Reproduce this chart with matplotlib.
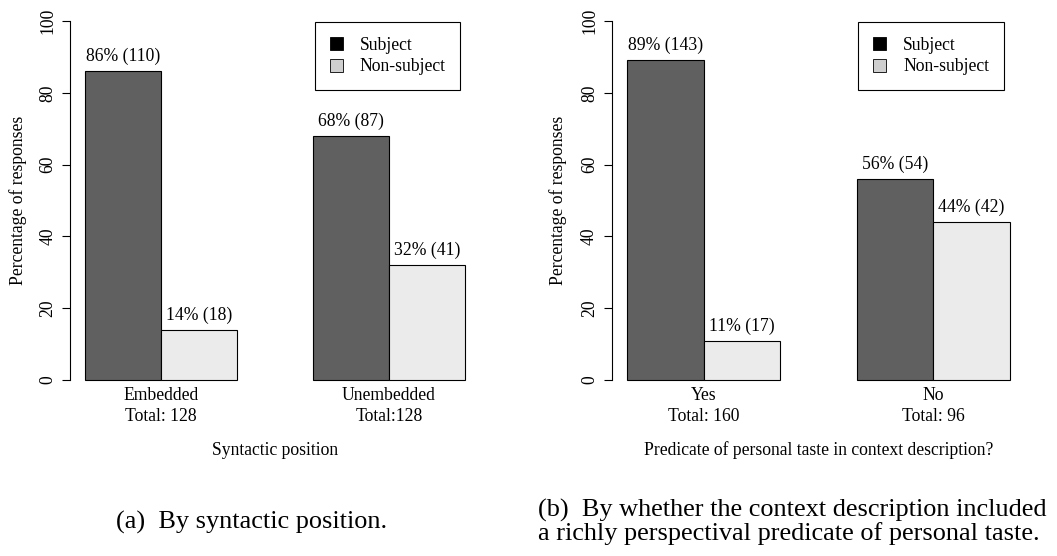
import matplotlib
matplotlib.use("Agg")
import matplotlib.pyplot as plt
from matplotlib.patches import Patch

plt.rcParams['font.family'] = ['Liberation Serif', 'DejaVu Serif']

# ---- data ----
cats_a = ["Embedded\nTotal: 128", "Unembedded\nTotal:128"]
subj_a = [86, 68]
subj_n_a = [110, 87]
non_a = [14, 32]
non_n_a = [18, 41]

cats_b = ["Yes\nTotal: 160", "No\nTotal: 96"]
subj_b = [89, 56]
subj_n_b = [143, 54]
non_b = [11, 44]
non_n_b = [17, 42]

series_names = ["Subject", "Non-subject"]
xtitle_a = "Syntactic position"
xtitle_b = "Predicate of personal taste in context description?"
ylab = "Percentage of responses"
cap_a = "(a)  By syntactic position."
cap_b = "(b)  By whether the context description included\na richly perspectival predicate of personal taste."

W, H = 1057, 556
fig = plt.figure(figsize=(W / 100, H / 100), dpi=100)

FS = 12.7
DARK = "#5f605f"
LIGHT = "#ebebeb"

def px_axes(left, right, top, bottom):
    return fig.add_axes([left / W, 1 - bottom / H, (right - left) / W, (bottom - top) / H])

def panel(ax, cats, s, sn, ns, nsn, xtitle):
    ax.set_xlim(0.8, 6.2)
    ax.set_ylim(-4, 104)
    for i in range(len(cats)):
        base = 1 + 3 * i
        ax.bar(base, s[i], width=1, align='edge', color=DARK, edgecolor='black', linewidth=0.8)
        ax.bar(base + 1, ns[i], width=1, align='edge', color=LIGHT, edgecolor='black', linewidth=0.8)
        ax.annotate(f"{s[i]}% ({sn[i]})", xy=(base + 0.5, s[i]), xytext=(0, 6),
                    textcoords='offset pixels', ha='center', va='bottom', fontsize=FS)
        ax.annotate(f"{ns[i]}% ({nsn[i]})", xy=(base + 1.5, ns[i]), xytext=(0, 6),
                    textcoords='offset pixels', ha='center', va='bottom', fontsize=FS)
        ax.annotate(cats[i], xy=(base + 1, 0), xytext=(0, -26), textcoords='offset pixels',
                    ha='center', va='center', fontsize=FS, linespacing=1.3,
                    annotation_clip=False)
    for sp in ['top', 'right', 'bottom']:
        ax.spines[sp].set_visible(False)
    ax.spines['left'].set_bounds(0, 100)
    ax.spines['left'].set_linewidth(0.8)
    ax.set_xticks([])
    ax.set_yticks([0, 20, 40, 60, 80, 100])
    ax.tick_params(axis='y', direction='out', length=5.8, width=0.8, pad=4, labelsize=FS)
    for lbl in ax.get_yticklabels():
        lbl.set_rotation(90)
        lbl.set_va('center')
    ax.patch.set_visible(False)
    ax.text(0.5, -0.1434, xtitle, transform=ax.transAxes, ha='center', va='center', fontsize=FS)
    handles = [Patch(facecolor='black', edgecolor='black', linewidth=0.6, label=series_names[0]),
               Patch(facecolor='#cfcfcf', edgecolor='black', linewidth=0.6, label=series_names[1])]
    leg = ax.legend(handles=handles, loc='upper left', bbox_to_anchor=(4.02, 99.7),
                    bbox_transform=ax.transData, borderaxespad=0, fontsize=FS,
                    fancybox=False, edgecolor='black', framealpha=1, borderpad=0.85,
                    handlelength=0.75, handleheight=0.75, handletextpad=0.95,
                    labelspacing=0.25)
    leg.get_frame().set_linewidth(0.8)

ax_a = px_axes(69.8, 480.2, 6.6, 394.4)
panel(ax_a, cats_a, subj_a, subj_n_a, non_a, non_n_a, xtitle_a)
ax_b = px_axes(611.7, 1024.8, 6.6, 394.4)
panel(ax_b, cats_b, subj_b, subj_n_b, non_b, non_n_b, xtitle_b)

fig.text(18 / W, 1 - 200.5 / H, ylab, rotation=90, ha='center', va='center', fontsize=FS)
fig.text(558 / W, 1 - 200.5 / H, ylab, rotation=90, ha='center', va='center', fontsize=FS)

fig.text(252 / W, 1 - 522 / H, cap_a, ha='center', va='center', fontsize=18.9)
fig.text(538 / W, 1 - 522 / H, cap_b, ha='left', va='center', fontsize=18.9, linespacing=0.98)

fig.savefig("out.png", dpi=100)
